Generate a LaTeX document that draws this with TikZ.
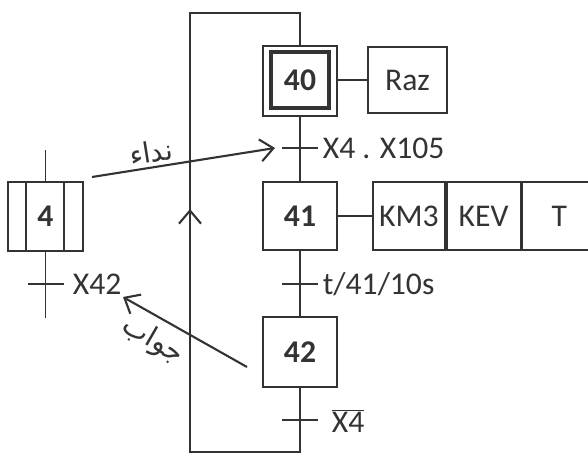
\documentclass[tikz,border=0pt]{standalone}
\usepackage{fontspec}
\setmainfont{Carlito}
\newfontfamily\arabicfont[Script=Arabic]{DejaVu Sans}
\TeXXeTstate=1
\usetikzlibrary{positioning,arrows.meta}
\definecolor{trait}{gray}{0.2}

\begin{document}
\begin{tikzpicture}[
    x=0.02cm, y=-0.02cm,
    color=trait, line width=1pt,
    % Etapes du grafcet
    etape/.style={
        draw,
        font=\fontsize{18}{20}\selectfont\bfseries,
        minimum width=1.48cm,
        minimum height=1.4cm,
        inner sep=0pt
    },
    % Actions associées
    action/.style={
        draw,
        font=\fontsize{18}{20}\selectfont,
        minimum height=1.36cm,
        inner sep=0pt
    },
    recep/.style={font=\fontsize{18}{20}\selectfont, anchor=west, inner sep=0pt},
    arabe/.style={font=\arabicfont\fontsize{16}{18}\selectfont, inner sep=0pt},
    fleche/.style={draw, line width=1.2pt, -{Straight Barb[length=0.26cm, width=0.44cm]}}
]
\useasboundingbox (0,0) rectangle (588,453);

% ---- ETAPE 40 (INITIALE) ----
\node[etape, line width=0.8pt] (e40ext) at (300,81) {};
\node[etape, line width=2.4pt, minimum width=1.16cm, minimum height=1.12cm] (e40) at (300,80) {40};
\node[action, minimum width=1.58cm, minimum height=1.32cm] (raz) at (407.5,80) {Raz};
\draw (e40ext.east |- raz.west) -- (raz.west);

% ---- TRANSITION X4 . X105 ----
\coordinate (t1) at (300,148);
\draw (t1) +(-18,0) -- +(18,0);
\node[recep] (r1) at (322,148) {X4 . X105};

% ---- ETAPE 41 ----
\node[etape, minimum height=1.36cm] (e41) at (300,216) {41};
\node[action, minimum width=1.44cm, anchor=west] (a1) at (372,216) {KM3};
\node[action, minimum width=1.48cm, right=0cm of a1] (a2) {KEV};
\node[action, minimum width=1.48cm, right=0cm of a2] (a3) {T};
\draw (e41.east) -- (a1.west);

% ---- TRANSITION t/41/10s ----
\coordinate (t2) at (300,284);
\draw (t2) +(-18,0) -- +(18,0);
\node[recep] (r2) at (322,284) {t/41/10s};

% ---- ETAPE 42 ----
\node[etape] (e42) at (300,352) {42};

% ---- TRANSITION /X4 ----
\coordinate (t3) at (300,420);
\draw (t3) +(-18,0) -- +(18,0);
\node[recep] (r3) at (331,421) {$\overline{\mathrm{X4}}$};

% ---- LIAISONS ET BOUCLE ----
\coordinate (bas_d)  at (300,452);
\coordinate (bas_g)  at (190,452);
\coordinate (haut_g) at (190,13);
\coordinate (haut_d) at (300,13);
\coordinate (sens)   at (190,209);
\draw (e40ext.south) -- (e41.north);
\draw (e41.south) -- (e42.north);
\draw (e42.south) -- (bas_d) -- (bas_g) -- (haut_g) -- (haut_d) -- (e40ext.north);
\draw[fleche] (bas_g) -- (sens);

% ---- GRAFCET ESCLAVE : ETAPE 4 ----
\node[etape, minimum width=1.5cm, minimum height=1.38cm] (e4) at (45.5,216.5) {4};
\draw ([xshift=0.38cm]e4.north west) -- ([xshift=0.38cm]e4.south west);
\draw ([xshift=-0.4cm]e4.north east) -- ([xshift=-0.4cm]e4.south east);
\coordinate (e4_haut) at (45.5,150);
\coordinate (e4_bas)  at (45.5,318);
\draw (e4_haut) -- (e4.north);
\draw (e4.south) -- (e4_bas);
\coordinate (t4) at (45.5,284);
\draw (t4) +(-18,0) -- +(18,0);
\node[recep] (r4) at (72,284) {X42};

% ---- APPEL / REPONSE ----
\coordinate (appel_d) at (92,177);
\coordinate (appel_f) at (275,148);
\draw[fleche] (appel_d) -- (appel_f);
\node[arabe, rotate=9] (l_appel) at (151,152) {\beginR نداء\endR};

\coordinate (rep_d) at (247,367);
\coordinate (rep_f) at (123,297);
\draw[fleche] (rep_d) -- (rep_f);
\node[arabe, rotate=-30] (l_rep) at (153,341) {\beginR جواب\endR};

\end{tikzpicture}
\end{document}
